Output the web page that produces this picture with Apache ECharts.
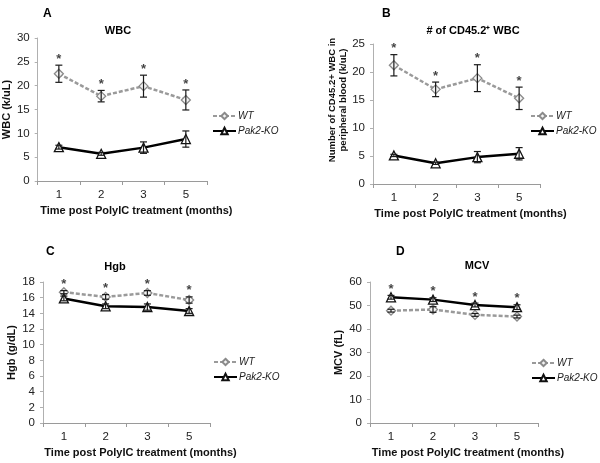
<!DOCTYPE html>
<html><head><meta charset="utf-8">
<script src="https://cdn.jsdelivr.net/npm/echarts@6/dist/echarts.min.js"></script>
<style>html,body{margin:0;padding:0;background:#fff}#c{width:600px;height:463px}</style>
</head><body><div id="c"></div>
<script>
// ---- data ----
const categories = ['1', '2', '3', '5'];
const seriesNames = ['WT', 'Pak2-KO'];

const wbcWT = [22.5, 17.8, 19.9, 17.0];
const wbcWTErr = [1.8, 1.2, 2.3, 2.1];
const wbcKO = [7.1, 5.7, 7.0, 8.8];
const wbcKOErr = [0.4, 0.3, 1.2, 1.7];

const cd45WT = [21.2, 16.9, 18.9, 15.3];
const cd45WTErr = [1.9, 1.3, 2.4, 2.0];
const cd45KO = [5.1, 3.7, 4.8, 5.4];
const cd45KOErr = [0.2, 0.2, 1.0, 1.1];

const hgbWT = [16.7, 16.1, 16.6, 15.7];
const hgbWTErr = [0.2, 0.3, 0.3, 0.4];
const hgbKO = [15.9, 14.9, 14.8, 14.3];
const hgbKOErr = [0.3, 0.3, 0.4, 0.3];

const mcvWT = [47.8, 48.3, 46.0, 45.3];
const mcvWTErr = [0.6, 1.2, 0.6, 0.6];
const mcvKO = [53.5, 52.5, 50.2, 49.3];
const mcvKOErr = [0.8, 0.8, 0.8, 1.0];

const panelLetters = ['A', 'B', 'C', 'D'];
const panelTitles = ['WBC', '# of CD45.2\u207A WBC', 'Hgb', 'MCV'];
const yNames = ['WBC (k/uL)', 'Number of CD45.2+ WBC in\nperipheral blood (k/uL)', 'Hgb (g/dL)', 'MCV (fL)'];
const xName = 'Time post PolyIC treatment (months)';
const yMax = [30, 25, 18, 60];
const yStep = [5, 5, 2, 10];
const significant = [[true, true, true, true], [true, true, true, true], [true, true, true, true], [true, true, true, true]];

// ---- layout ----
const FONT = 'Liberation Sans, Arial, sans-serif';
const panels = [
  { wt: wbcWT, wte: wbcWTErr, ko: wbcKO, koe: wbcKOErr, grid: { left: 37, top: 38, width: 170, height: 143 },
    letter: [38, 3], title: [113, 20], legend: [212, 111], yPad: 0, yFont: 11, yGap: 24 },
  { wt: cd45WT, wte: cd45WTErr, ko: cd45KO, koe: cd45KOErr, grid: { left: 373, top: 44, width: 167, height: 140 },
    letter: [377, 3], title: [468, 20], legend: [530, 111], yPad: 28, yFont: 9.5, yGap: 22 },
  { wt: hgbWT, wte: hgbWTErr, ko: hgbKO, koe: hgbKOErr, grid: { left: 43, top: 282, width: 167, height: 141 },
    letter: [41, 241], title: [110, 256], legend: [213, 357], yPad: 0, yFont: 11, yGap: 24 },
  { wt: mcvWT, wte: mcvWTErr, ko: mcvKO, koe: mcvKOErr, grid: { left: 370, top: 282, width: 168, height: 141 },
    letter: [391, 241], title: [472, 255], legend: [531, 358], yPad: 0, yFont: 11, yGap: 24 }
];

const grids = [], xAxes = [], yAxes = [], series = [], titles = [], legends = [];

function errData(vals, errs) {
  return vals.map((v, i) => [i, v - errs[i], v + errs[i]]);
}
function errSeries(name, idx, vals, errs) {
  return {
    type: 'custom', name: name, xAxisIndex: idx, yAxisIndex: idx, z: 5,
    data: errData(vals, errs),
    renderItem: function (params, api) {
      const lo = api.coord([api.value(0), api.value(1)]);
      const hi = api.coord([api.value(0), api.value(2)]);
      const w = 3.5;
      const st = { stroke: '#1a1a1a', lineWidth: 1.2 };
      return { type: 'group', children: [
        { type: 'line', shape: { x1: lo[0], y1: lo[1], x2: hi[0], y2: hi[1] }, style: st },
        { type: 'line', shape: { x1: hi[0] - w, y1: hi[1], x2: hi[0] + w, y2: hi[1] }, style: st },
        { type: 'line', shape: { x1: lo[0] - w, y1: lo[1], x2: lo[0] + w, y2: lo[1] }, style: st }
      ]};
    }
  };
}

panels.forEach((p, i) => {
  grids.push(p.grid);
  xAxes.push({
    type: 'category', gridIndex: i, data: categories, boundaryGap: true,
    axisLine: { lineStyle: { color: '#9a9a9a', width: 1 } },
    axisTick: { show: true, length: 4, lineStyle: { color: '#9a9a9a' } },
    axisLabel: { color: '#222', fontSize: 11.5, fontFamily: FONT, margin: 8 },
    splitLine: { show: false },
    name: xName, nameLocation: 'middle', nameGap: 24,
    nameTextStyle: { fontWeight: 'bold', fontSize: 11, color: '#111', fontFamily: FONT, padding: [0, 0, 0, 28] }
  });
  yAxes.push({
    type: 'value', gridIndex: i, min: 0, max: yMax[i], interval: yStep[i],
    axisLine: { show: true, lineStyle: { color: '#b0b0b0', width: 1 } },
    axisTick: { show: true, length: 3, lineStyle: { color: '#b0b0b0' } },
    axisLabel: { color: '#222', fontSize: 11.5, fontFamily: FONT, margin: 8 },
    splitLine: { show: false },
    name: yNames[i], nameLocation: 'middle', nameGap: p.yGap, nameRotate: 90,
    nameTextStyle: { fontWeight: 'bold', fontSize: p.yFont, color: '#111', fontFamily: FONT, lineHeight: p.yFont + 1,
      padding: [0, 0, 0, p.yPad] }
  });
  series.push({
    type: 'line', name: seriesNames[0], xAxisIndex: i, yAxisIndex: i, data: p.wt, z: 3,
    symbol: 'diamond', symbolSize: 9,
    lineStyle: { color: '#9a9a9a', width: 2.5, type: [4, 2] },
    itemStyle: { color: '#f4f4f4', borderColor: '#8a8a8a', borderWidth: 1.3 }
  });
  series.push({
    type: 'line', name: seriesNames[1], xAxisIndex: i, yAxisIndex: i, data: p.ko, z: 4,
    symbol: 'triangle', symbolSize: 9,
    lineStyle: { color: '#000', width: 2.5 },
    itemStyle: { color: '#fff', borderColor: '#111', borderWidth: 1.3 }
  });
  series.push(errSeries('errWT' + i, i, p.wt, p.wte));
  series.push(errSeries('errKO' + i, i, p.ko, p.koe));
  series.push({
    type: 'scatter', name: 'sig' + i, xAxisIndex: i, yAxisIndex: i, symbolSize: 0, z: 6,
    data: categories.map((c, k) => significant[i][k] ? [k, Math.max(p.wt[k] + p.wte[k], p.ko[k] + p.koe[k])] : null).filter(Boolean),
    label: { show: true, formatter: '*', position: 'inside', offset: [0, -6], fontSize: 13, fontWeight: 'bold', color: '#111', fontFamily: FONT },
    silent: true
  });
  titles.push({ text: panelLetters[i], left: p.letter[0], top: p.letter[1],
    textStyle: { fontSize: 12, fontWeight: 'bold', color: '#000', fontFamily: FONT } });
  titles.push({ text: panelTitles[i], left: p.title[0], top: p.title[1], textAlign: 'center',
    textStyle: { fontSize: 11, fontWeight: 'bold', color: '#000', fontFamily: FONT } });
  legends.push({
    data: seriesNames, orient: 'vertical', left: p.legend[0], top: p.legend[1],
    itemWidth: 23, itemHeight: 8, itemGap: 5, padding: 0, selectedMode: false,
    textStyle: { fontSize: 10, fontStyle: 'italic', color: '#222', fontFamily: FONT, padding: [0, 0, 0, -3] }
  });
});

const chart = echarts.init(document.getElementById('c'), null, { renderer: 'canvas' });
chart.setOption({
  backgroundColor: '#fff',
  animation: false,
  title: titles,
  legend: legends,
  grid: grids,
  xAxis: xAxes,
  yAxis: yAxes,
  series: series
});
</script></body></html>
